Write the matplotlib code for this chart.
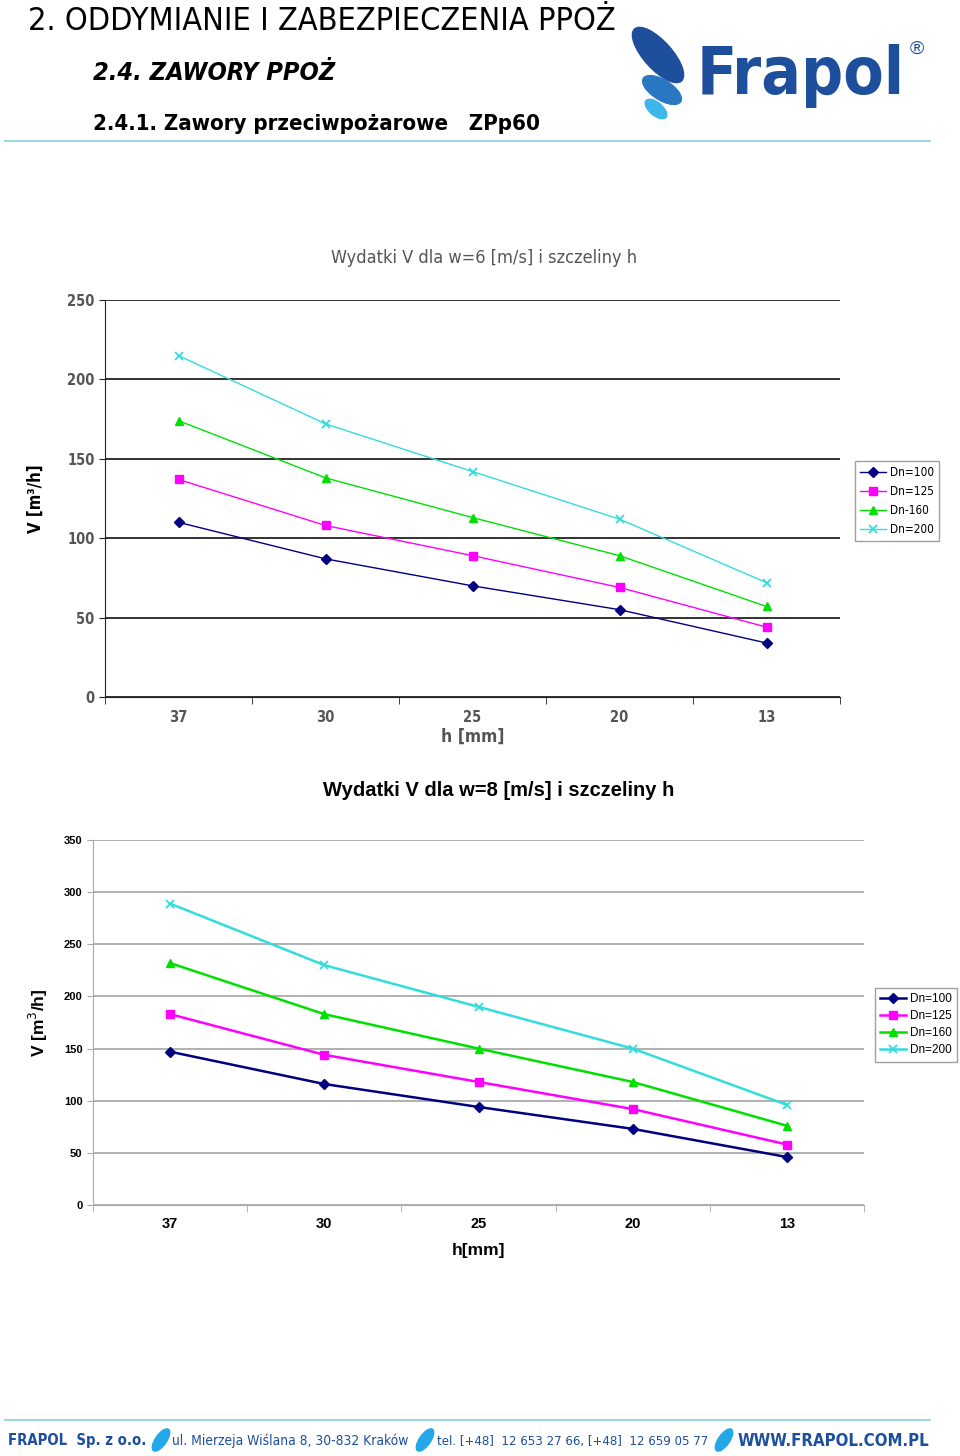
import matplotlib
matplotlib.use("Agg")
import matplotlib.pyplot as plt
from matplotlib.patches import Ellipse
from matplotlib.font_manager import FontProperties

plt.rcParams["font.family"] = ["Liberation Sans", "DejaVu Sans"]
COND = dict(family="DejaVu Sans", stretch="condensed")

h_labels = ["37", "30", "25", "20", "13"]
series_names_1 = ["Dn=100", "Dn=125", "Dn-160", "Dn=200"]
series_names_2 = ["Dn=100", "Dn=125", "Dn=160", "Dn=200"]

# w = 6 m/s
v6_dn100 = [110, 87, 70, 55, 34]
v6_dn125 = [137, 108, 89, 69, 44]
v6_dn160 = [174, 138, 113, 89, 57]
v6_dn200 = [215, 172, 142, 112, 72]

# w = 8 m/s
v8_dn100 = [147, 116, 94, 73, 46]
v8_dn125 = [183, 144, 118, 92, 58]
v8_dn160 = [232, 183, 150, 118, 76]
v8_dn200 = [289, 230, 190, 150, 96]

NAVY = "#000080"; MAG = "#ff00ff"; GREEN = "#00e000"; CYAN = "#33dddd"
BLUE = "#1d4f9c"; LINE = "#9fd6e4"

fig = plt.figure(figsize=(9.6, 14.56), dpi=100)
fig.patch.set_facecolor("white")
renderer = fig.canvas.get_renderer()

# ---------- header / footer overlay (pixel coords) ----------
ov = fig.add_axes([0, 0, 1, 1], zorder=-1)
ov.set_xlim(0, 960); ov.set_ylim(1456, 0); ov.axis("off")


def fit_text(x0, x1, y, s, size=12, **kw):
    # shrink/grow font so the text spans x0..x1 pixels
    t = ov.text(x0, y, s, fontsize=size, va="center", ha="left", **kw)
    w = t.get_window_extent(renderer).width
    t.set_fontsize(size * (x1 - x0) / w)
    return t


fit_text(28, 613, 21, "2. ODDYMIANIE I ZABEZPIECZENIA PPOŻ", color="black", **COND)
fit_text(93, 335, 73, "2.4. ZAWORY PPOŻ", style="italic", fontweight="bold",
         color="black", **COND)
fit_text(93, 538, 124, "2.4.1. Zawory przeciwpożarowe   ZPp60", fontweight="bold",
         color="black", **COND)
ov.plot([5, 930], [141, 141], color=LINE, lw=1.5)

# logo
ov.add_patch(Ellipse((658, 55), 28, 70, angle=-42, color=BLUE))
ov.add_patch(Ellipse((662, 90), 20, 44, angle=-58, color="#2b78c2"))
ov.add_patch(Ellipse((656, 109), 13, 26, angle=-50, color="#3fb6ea"))
fit_text(697, 905, 76, "Frapol", size=50, fontweight="bold", color=BLUE, **COND)
ov.text(917, 49, "®", fontsize=14, color=BLUE, va="center", ha="center")

# footer
ov.plot([5, 930], [1420, 1420], color=LINE, lw=1.5)
fit_text(8, 145, 1441, "FRAPOL  Sp. z o.o.", fontweight="bold", color=BLUE, **COND)
fit_text(172, 407, 1441, "ul. Mierzeja Wiślana 8, 30-832 Kraków", color=BLUE, **COND)
fit_text(437, 707, 1441, "tel. [+48]  12 653 27 66, [+48]  12 659 05 77", color=BLUE, **COND)
fit_text(738, 930, 1441, "WWW.FRAPOL.COM.PL", fontweight="bold", color=BLUE, **COND)
for x in [161, 425, 724]:
    ov.add_patch(Ellipse((x, 1440), 11, 26, angle=35, color="#22a8e8"))


def draw_chart(ax, data, names, ymax, grid_col, lw, ms, tick_font, legend_box,
               legend_font, spacing):
    markers = ["D", "s", "^", "x"]
    colors = [NAVY, MAG, GREEN, CYAN]
    x = list(range(len(h_labels)))
    for vals, mk, c, nm in zip(data, markers, colors, names):
        ax.plot(x, vals, marker=mk, color=c, lw=lw, ms=ms if mk != "D" else ms * 0.8,
                mew=1.3 if mk == "x" else 1, label=nm, zorder=3)
    ax.set_xlim(-0.5, len(h_labels) - 0.5)
    ax.set_ylim(0, ymax)
    ax.set_yticks(range(0, ymax + 1, 50))
    ax.yaxis.grid(True, color=grid_col, lw=1.3, zorder=0)
    ax.set_xticks(x)
    ax.set_xticklabels(h_labels)
    ax.set_xticks([i - 0.5 for i in range(len(h_labels) + 1)], minor=True)
    ax.tick_params(axis="x", which="major", length=0, pad=9)
    ax.tick_params(axis="x", which="minor", length=5, color=grid_col)
    ax.tick_params(axis="y", length=4, color=grid_col)
    for s in ["top", "right"]:
        ax.spines[s].set_visible(False)
    ax.spines["left"].set_color(grid_col)
    ax.spines["bottom"].set_color(grid_col)
    for lab in ax.get_xticklabels() + ax.get_yticklabels():
        lab.set_fontproperties(tick_font)
    leg = ax.legend(loc="upper left", bbox_to_anchor=legend_box,
                    bbox_transform=fig.transFigure, fancybox=False, frameon=True,
                    prop=legend_font, handlelength=2.2, labelspacing=spacing,
                    borderpad=0.45, handletextpad=0.3, borderaxespad=0)
    leg.get_frame().set_edgecolor("#888888")
    return ax


# ---------- chart 1 (w=6) ----------
ax1 = fig.add_axes([105 / 960, 1 - 697 / 1456, 735 / 960, 397 / 1456])
draw_chart(ax1, [v6_dn100, v6_dn125, v6_dn160, v6_dn200], series_names_1, 250,
           "#222222", 1.0, 6,
           FontProperties(size=10.5, weight="bold", **COND),
           (855 / 960, 1 - 461 / 1456),
           FontProperties(size=8.5, **COND), 0.5)
for lab in ax1.get_yticklabels() + ax1.get_xticklabels():
    lab.set_color("#555555")
ax1.set_title("Wydatki V dla w=6 [m/s] i szczeliny h", fontsize=13, color="#555555",
              pad=27, x=0.516, **COND)
ax1.set_ylabel("V [m³/h]", fontsize=12, fontweight="bold", labelpad=16, **COND)
ax1.set_xlabel("h [mm]", fontsize=12.5, fontweight="bold", color="#555555",
               labelpad=2, **COND)

# ---------- chart 2 (w=8) ----------
ax2 = fig.add_axes([93 / 960, 1 - 1205 / 1456, 771 / 960, 365 / 1456])
draw_chart(ax2, [v8_dn100, v8_dn125, v8_dn160, v8_dn200], series_names_2, 350,
           "#aaaaaa", 1.8, 6,
           FontProperties(family=["Liberation Sans", "DejaVu Sans"], size=8, weight="bold"),
           (875 / 960, 1 - 988 / 1456),
           FontProperties(family=["Liberation Sans", "DejaVu Sans"], size=8.5), 0.42)
for lab in ax2.get_xticklabels():
    lab.set_fontsize(10.5)
ax2.set_title("Wydatki V dla w=8 [m/s] i szczeliny h", fontsize=14.5, fontweight="bold",
              pad=32, x=0.526)
ax2.set_ylabel("V [m$^3$/h]", fontsize=12.5, fontweight="bold", labelpad=10)
ax2.set_xlabel("h[mm]", fontsize=12.5, fontweight="bold", labelpad=8)

fig.savefig("out.png", dpi=100, facecolor="white")
